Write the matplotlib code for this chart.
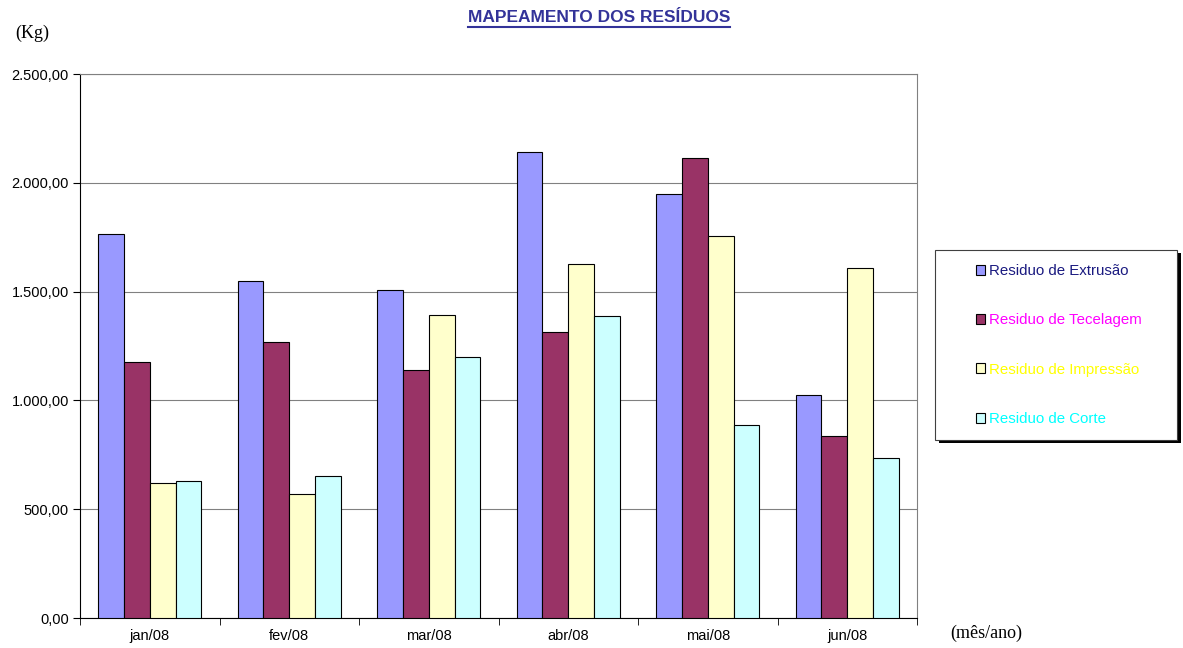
import matplotlib
matplotlib.use('Agg')
import matplotlib.pyplot as plt
import matplotlib.patches as mpatches
from matplotlib.lines import Line2D
import numpy as np

meses = ['jan/08', 'fev/08', 'mar/08', 'abr/08', 'mai/08', 'jun/08']
series = ['Residuo de Extrusão', 'Residuo de Tecelagem', 'Residuo de Impressão', 'Residuo de Corte']
extrusao = [1765, 1549, 1507, 2141, 1948, 1025]
tecelagem = [1176, 1268, 1140, 1314, 2114, 836]
impressao = [620, 570, 1392, 1627, 1755, 1608]
corte = [630, 652, 1199, 1388, 887, 735]
valores = [extrusao, tecelagem, impressao, corte]

cores = ['#9999FF', '#993366', '#FFFFCC', '#CCFFFF']
cores_texto = ['#1A1A80', '#FF00FF', '#FFFF00', '#00FFFF']

plt.rcParams['font.family'] = ['Liberation Sans', 'DejaVu Sans']

fig = plt.figure(figsize=(11.83, 6.48), dpi=100)
ax = fig.add_axes([80/1183, 1 - 618/648, (917-80)/1183, (618-74)/648])

x = np.arange(len(meses))
w = 0.185
for i, (vals, cor) in enumerate(zip(valores, cores)):
    ax.bar(x + (i - 1.5) * w, vals, w, color=cor, edgecolor='black', linewidth=0.8, zorder=3)

ax.set_xlim(-0.5, len(meses) - 0.5)
ax.set_ylim(0, 2500)
ax.set_yticks(np.arange(0, 2501, 500))
ax.set_yticklabels([f'{v:,.2f}'.replace(',', 'X').replace('.', ',').replace('X', '.') for v in np.arange(0, 2501, 500)],
                   fontsize=10.5)
ax.yaxis.grid(True, color='#808080', linewidth=0.8, zorder=0)
ax.set_xticks(x)
ax.set_xticklabels(meses, fontsize=10.5)
ax.set_xticks(np.arange(-0.5, len(meses)), minor=True)
ax.tick_params(axis='x', which='major', length=0, pad=8)
ax.tick_params(axis='x', which='minor', length=5, direction='out', color='black')
ax.tick_params(axis='y', length=5, direction='out', color='black', pad=3)

ax.spines['top'].set_color('#808080')
ax.spines['right'].set_color('#808080')
ax.spines['left'].set_color('black')
ax.spines['bottom'].set_color('black')

# titulo sublinhado
titulo = fig.text(599/1183, 1 - 18/648, 'MAPEAMENTO DOS RESÍDUOS', ha='center', va='center',
                  fontsize=12.5, fontweight='bold', color='#333399')
fig.canvas.draw()
bb = titulo.get_window_extent().transformed(fig.transFigure.inverted())
fig.add_artist(Line2D([bb.x0, bb.x1], [bb.y0 - 0.002, bb.y0 - 0.002], color='#333399', linewidth=1.5))

fig.text(15/1183, 1 - 33/648, '(Kg)', ha='left', va='center', fontsize=13, family='Liberation Serif')
fig.text(950/1183, 1 - 633/648, '(mês/ano)', ha='left', va='center', fontsize=13, family='Liberation Serif')

# caixa da legenda com sombra
lx, ly, lw, lh = 935/1183, 1 - 440/648, (1177-935)/1183, (440-250)/648
sombra = mpatches.Rectangle((lx + 0.003, ly - 0.005), lw, lh, transform=fig.transFigure,
                            facecolor='black', edgecolor='none', zorder=1)
caixa = mpatches.Rectangle((lx, ly), lw, lh, transform=fig.transFigure,
                           facecolor='white', edgecolor='#404040', linewidth=0.8, zorder=2)
fig.add_artist(sombra)
fig.add_artist(caixa)

handles = [mpatches.Patch(facecolor=c, edgecolor='black', linewidth=0.8) for c in cores]
leg = fig.legend(handles, series, loc='center left', bbox_to_anchor=(962/1183, 1 - 345/648),
                 frameon=False, fontsize=10.8, handlelength=0.65, handleheight=0.65, handletextpad=0.25,
                 labelspacing=2.35, labelcolor=cores_texto)
leg.set_zorder(3)

fig.savefig('out.png', dpi=100)
